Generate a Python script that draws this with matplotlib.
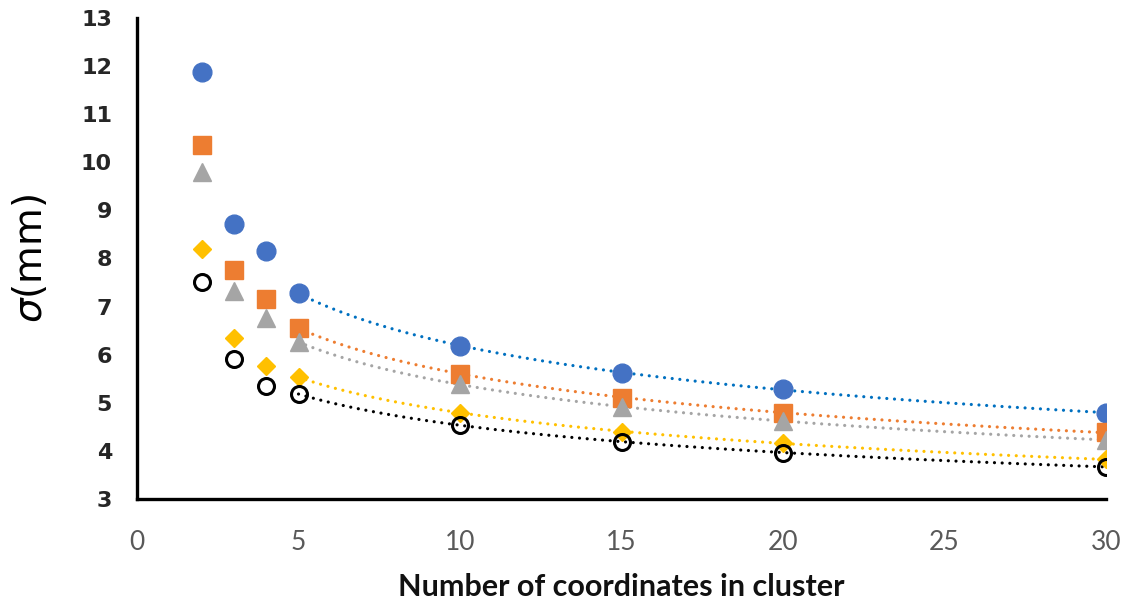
import numpy as np
import matplotlib
matplotlib.use("Agg")
import matplotlib.pyplot as plt

# Cluster sizes and measured sigma (mm) for each series
cluster_size = [2, 3, 4, 5, 10, 15, 20, 30]
sigma_blue   = [11.88, 8.72, 8.16, 7.28, 6.18, 5.62, 5.29, 4.79]
sigma_orange = [10.36, 7.76, 7.16, 6.56, 5.60, 5.10, 4.79, 4.39]
sigma_gray   = [9.80, 7.32, 6.76, 6.26, 5.39, 4.91, 4.62, 4.23]
sigma_yellow = [8.20, 6.35, 5.77, 5.54, 4.79, 4.39, 4.16, 3.83]
sigma_black  = [7.51, 5.91, 5.35, 5.18, 4.54, 4.19, 3.96, 3.67]

x_ticks = [0, 5, 10, 15, 20, 25, 30]
y_ticks = [3, 4, 5, 6, 7, 8, 9, 10, 11, 12, 13]

fig = plt.figure(figsize=(11.26, 6.08), dpi=100)
ax = fig.add_axes([137 / 1126, 1 - 499 / 608, (1106 - 137) / 1126, (499 - 18) / 608])

series = [
    (sigma_blue,   dict(marker="o", color="#4472C4", ms=13.5, mec="#4472C4"), "#0070C0"),
    (sigma_orange, dict(marker="s", color="#ED7D31", ms=12.5, mec="#ED7D31"), "#ED7D31"),
    (sigma_gray,   dict(marker="^", color="#A5A5A5", ms=13, mec="#A5A5A5"), "#A5A5A5"),
    (sigma_yellow, dict(marker="D", color="#FFC000", ms=9.5, mec="#FFC000"), "#FFC000"),
    (sigma_black,  dict(marker="o", color="none", ms=11.5, mec="black", mew=2.2), "black"),
]

x = np.array(cluster_size, dtype=float)
fit_mask = x >= 5
xs = np.linspace(5, 30, 200)
for vals, mstyle, tcolor in series:
    y = np.array(vals)
    # power-law trendline y = a * x^b fitted on the larger clusters
    b, loga = np.polyfit(np.log(x[fit_mask]), np.log(y[fit_mask]), 1)
    ax.plot(xs, np.exp(loga) * xs ** b, color=tcolor, lw=2.3,
            linestyle=(0, (0.01, 2.4)), dash_capstyle="round", zorder=2)

for vals, mstyle, tcolor in series:
    ax.plot(cluster_size, vals, linestyle="none", zorder=3, **mstyle)

ax.set_xlim(0, 30)
ax.set_ylim(3, 13)
ax.set_xticks(x_ticks)
ax.set_yticks(y_ticks)
ax.tick_params(length=0)
ax.tick_params(axis="y", pad=18)
ax.tick_params(axis="x", pad=22)

for s in ("top", "right"):
    ax.spines[s].set_visible(False)
for s in ("left", "bottom"):
    ax.spines[s].set_linewidth(2.4)
    ax.spines[s].set_color("black")

sans = ["Lato", "DejaVu Sans"]
for lbl in ax.get_yticklabels():
    lbl.set_fontfamily(["DejaVu Sans"])
    lbl.set_fontweight("bold")
    lbl.set_fontsize(16)
    lbl.set_color("#262626")
for lbl in ax.get_xticklabels():
    lbl.set_fontfamily(sans)
    lbl.set_fontsize(19)
    lbl.set_color("#595959")

ax.set_xlabel("Number of coordinates in cluster", fontsize=22, fontweight="bold",
              family=sans, color="#111111", labelpad=13)
ax.set_ylabel(r"$\sigma$(mm)", fontsize=28, family=["DejaVu Sans"], labelpad=22)

fig.savefig("out.png", dpi=100)
